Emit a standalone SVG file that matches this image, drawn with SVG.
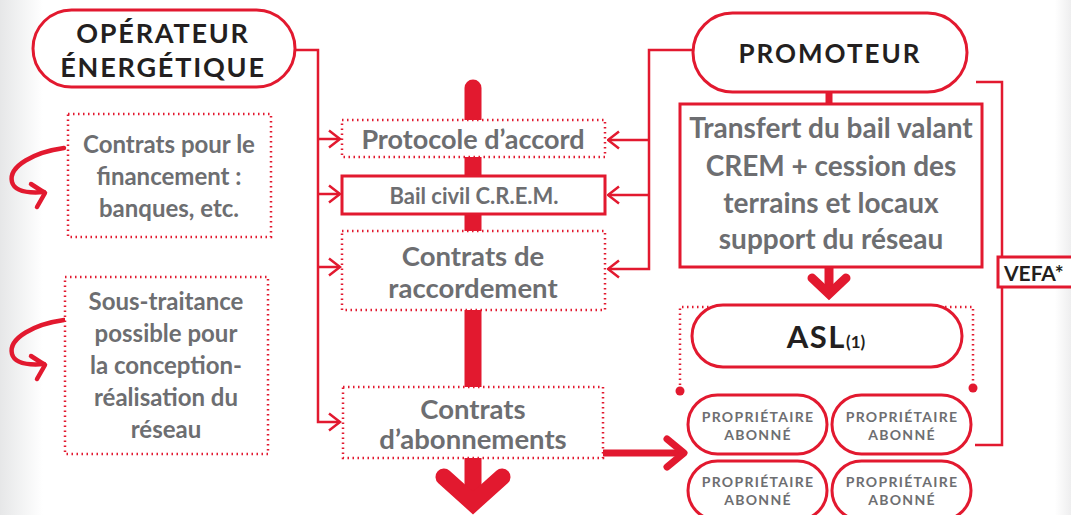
<svg xmlns="http://www.w3.org/2000/svg" width="1071" height="515" viewBox="0 0 1071 515">
<defs>
<linearGradient id="bg" x1="0" y1="0" x2="1" y2="0">
<stop offset="0" stop-color="#e6e7e8"/>
<stop offset="0.04" stop-color="#ffffff"/>
<stop offset="0.985" stop-color="#ffffff"/>
<stop offset="1" stop-color="#eeeeef"/>
</linearGradient>
<marker id="open" viewBox="0 0 14 20" refX="12.5" refY="10" markerWidth="14" markerHeight="20" markerUnits="userSpaceOnUse" orient="auto">
<path d="M1.5 1.5 L12.5 10 L1.5 18.5" fill="none" stroke="#e2192f" stroke-width="2.5"/>
</marker>
</defs>
<style>
.pill{fill:#fff;stroke:#e2192f;stroke-width:3}
.dot{fill:none;stroke:#e2192f;stroke-width:2.5;stroke-dasharray:1.5 3.5}
.box{fill:#fff;stroke:#e2192f;stroke-width:2.5;stroke-dasharray:1.5 3.5}
.solid{fill:#fff;stroke:#e2192f;stroke-width:3}
.thin{fill:none;stroke:#e2192f;stroke-width:2.5}
.t{font-family:Lato,"Open Sans",sans-serif;font-weight:700;text-anchor:middle}
.g{fill:#6d6e71}
.k{fill:#231f20}
</style>
<rect width="1071" height="515" fill="url(#bg)"/>

<!-- thick central bar -->
<g id="spine">
<line x1="473" y1="88" x2="473" y2="488" stroke="#e2192f" stroke-width="17" stroke-linecap="round"/>
<path d="M444 477 L473 503 L502 477" fill="none" stroke="#e2192f" stroke-width="17" stroke-linecap="round" stroke-linejoin="miter"/>
</g>

<g id="connectors">
<!-- operateur lines -->
<polyline class="thin" points="295,50 318,50 318,422 340,422" marker-end="url(#open)"/>
<line class="thin" x1="318" y1="139" x2="340" y2="139" marker-end="url(#open)"/>
<line class="thin" x1="318" y1="194" x2="340" y2="194" marker-end="url(#open)"/>
<line class="thin" x1="318" y1="267" x2="340" y2="267" marker-end="url(#open)"/>
<!-- promoteur lines -->
<polyline class="thin" points="693,50 649,50 649,269 608,269" marker-end="url(#open)"/>
<line class="thin" x1="649" y1="140" x2="608" y2="140" marker-end="url(#open)"/>
<line class="thin" x1="649" y1="195" x2="608" y2="195" marker-end="url(#open)"/>
<!-- promoteur to transfert -->
<line x1="829" y1="90" x2="829" y2="106" stroke="#e2192f" stroke-width="7"/>
<!-- transfert down arrow -->
<line x1="829" y1="266" x2="829" y2="290" stroke="#e2192f" stroke-width="9"/>
<path d="M812 278 L829 294 L846 278" fill="none" stroke="#e2192f" stroke-width="9" stroke-linecap="round"/>
<!-- VEFA line -->
<polyline class="thin" points="976,82 1002,82 1002,445 975,445"/>
<!-- abonnements to proprietaires -->
<line x1="604" y1="453" x2="683" y2="453" stroke="#e2192f" stroke-width="7" stroke-linecap="round"/>
<path d="M667 439 L684 453 L667 467" fill="none" stroke="#e2192f" stroke-width="7" stroke-linecap="round" stroke-linejoin="round"/>
<!-- ASL bracket -->
<polyline class="dot" points="680,390 680,307 720,307"/>
<polyline class="dot" points="935,307 973,307 973,388"/>
<circle cx="680" cy="391" r="4.5" fill="#e2192f"/>
<circle cx="973" cy="388" r="4.5" fill="#e2192f"/>
<!-- curved arrows -->
<path d="M64 148 C35 152 8 166 12 182 C15 193 32 193 44 192" fill="none" stroke="#e2192f" stroke-width="4.5" stroke-linecap="round"/>
<path d="M31 184 L45 193 L37 207" fill="none" stroke="#e2192f" stroke-width="4.5" stroke-linecap="round" stroke-linejoin="round"/>
<path d="M64 320 C35 324 8 338 12 354 C15 365 32 365 44 364" fill="none" stroke="#e2192f" stroke-width="4.5" stroke-linecap="round"/>
<path d="M31 356 L45 365 L37 379" fill="none" stroke="#e2192f" stroke-width="4.5" stroke-linecap="round" stroke-linejoin="round"/>
</g>

<g id="operateur">
<rect class="pill" x="33" y="10" width="262" height="77" rx="38.5"/>
<text class="t k" x="163" y="43" font-size="27" letter-spacing="1.8">OPÉRATEUR</text>
<text class="t k" x="163" y="77" font-size="27" letter-spacing="1.8">ÉNERGÉTIQUE</text>
</g>

<g id="financement">
<rect class="box" x="68" y="114" width="203" height="123"/>
<text class="t g" x="169" y="153" font-size="24">Contrats pour le</text>
<text class="t g" x="169" y="185" font-size="24">financement :</text>
<text class="t g" x="169" y="217" font-size="24">banques, etc.</text>
</g>

<g id="soustraitance">
<rect class="box" x="65" y="277" width="203" height="177"/>
<text class="t g" x="166" y="310" font-size="24">Sous-traitance</text>
<text class="t g" x="166" y="342" font-size="24">possible pour</text>
<text class="t g" x="166" y="374" font-size="24">la conception-</text>
<text class="t g" x="166" y="406" font-size="24">réalisation du</text>
<text class="t g" x="166" y="438" font-size="24">réseau</text>
</g>

<g id="protocole">
<rect class="box" x="342" y="120" width="263" height="37"/>
<text class="t g" x="473" y="149" font-size="27">Protocole d’accord</text>
</g>

<g id="bail">
<rect class="solid" x="342" y="176" width="263" height="38"/>
<text class="t g" x="474" y="204" font-size="22">Bail civil C.R.E.M.</text>
</g>

<g id="raccordement">
<rect class="box" x="342" y="231" width="263" height="79"/>
<text class="t g" x="473" y="266" font-size="27.5">Contrats de</text>
<text class="t g" x="473" y="298" font-size="27.5">raccordement</text>
</g>

<g id="abonnements">
<rect class="box" x="343" y="387" width="260" height="71"/>
<text class="t g" x="473" y="419" font-size="27.5">Contrats</text>
<text class="t g" x="473" y="449" font-size="27.5">d’abonnements</text>
</g>

<g id="promoteur">
<rect class="pill" x="693" y="13" width="274" height="79" rx="39.5"/>
<text class="t k" x="830" y="63" font-size="26" letter-spacing="2">PROMOTEUR</text>
</g>

<g id="transfert">
<rect class="solid" x="680" y="104" width="302" height="163"/>
<text class="t g" x="831" y="138" font-size="28">Transfert du bail valant</text>
<text class="t g" x="831" y="176" font-size="28">CREM + cession des</text>
<text class="t g" x="831" y="213" font-size="28">terrains et locaux</text>
<text class="t g" x="831" y="249" font-size="28">support du réseau</text>
</g>

<g id="vefa">
<rect class="solid" x="998" y="257" width="80" height="30"/>
<text class="t k" x="1004" y="281" font-size="21" style="text-anchor:start">VEFA*</text>
</g>

<g id="asl">
<rect class="pill" x="692" y="305" width="270" height="62" rx="31"/>
<text class="t k" x="826" y="348" font-size="31" letter-spacing="1.5">ASL<tspan font-size="17" letter-spacing="0">(1)</tspan></text>
</g>

<g id="proprietaire1">
<rect class="pill" x="688" y="395" width="139" height="59" rx="29.5"/>
<text class="t g" x="758" y="422" font-size="14" letter-spacing="1.3">PROPRIÉTAIRE</text>
<text class="t g" x="758" y="440" font-size="14" letter-spacing="1.3">ABONNÉ</text>
</g>
<g id="proprietaire2">
<rect class="pill" x="832" y="395" width="139" height="59" rx="29.5"/>
<text class="t g" x="902" y="422" font-size="14" letter-spacing="1.3">PROPRIÉTAIRE</text>
<text class="t g" x="902" y="440" font-size="14" letter-spacing="1.3">ABONNÉ</text>
</g>
<g id="proprietaire3">
<rect class="pill" x="688" y="461" width="139" height="59" rx="29.5"/>
<text class="t g" x="758" y="487" font-size="14" letter-spacing="1.3">PROPRIÉTAIRE</text>
<text class="t g" x="758" y="505" font-size="14" letter-spacing="1.3">ABONNÉ</text>
</g>
<g id="proprietaire4">
<rect class="pill" x="832" y="461" width="139" height="59" rx="29.5"/>
<text class="t g" x="902" y="487" font-size="14" letter-spacing="1.3">PROPRIÉTAIRE</text>
<text class="t g" x="902" y="505" font-size="14" letter-spacing="1.3">ABONNÉ</text>
</g>
</svg>
